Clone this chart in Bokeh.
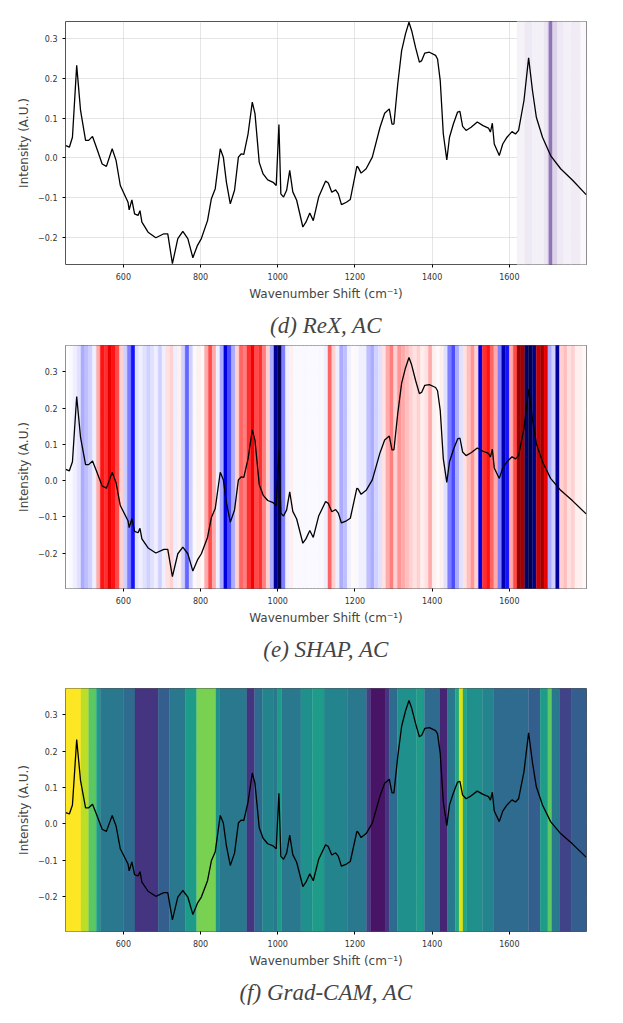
import numpy as np
from bokeh.plotting import figure
from bokeh.layouts import column
from bokeh.models import FixedTicker, Range1d, Title
from bokeh.palettes import Viridis256
from bokeh.embed import file_html
from bokeh.resources import INLINE

wn = [451,460,468,479,489,502,510,520,530,545,556,571,581,592,612,615,622,629,638,643,648,664,684,705,715,727,741,754,767,780,792,802,818,828,838,851,859,867,877,888,898,905,912,923,934,941,952,962,974,988,996,1003,1008,1015,1023,1031,1039,1049,1065,1073,1083,1092,1106,1124,1131,1140,1150,1157,1165,1178,1188,1205,1208,1216,1229,1245,1265,1277,1289,1296,1301,1311,1321,1331,1340,1347,1357,1367,1373,1381,1393,1409,1414,1421,1429,1438,1445,1455,1466,1472,1479,1488,1501,1517,1532,1546,1551,1556,1561,1574,1583,1594,1607,1616,1624,1638,1650,1660,1670,1686,1707,1733,1764,1799]
intensity = [0.031,0.027,0.052,0.232,0.119,0.044,0.044,0.054,0.027,-0.015,-0.021,0.023,-0.006,-0.069,-0.111,-0.130,-0.105,-0.140,-0.144,-0.132,-0.161,-0.186,-0.200,-0.190,-0.190,-0.265,-0.202,-0.184,-0.202,-0.250,-0.219,-0.202,-0.157,-0.102,-0.077,0.023,0.002,-0.061,-0.115,-0.081,0.002,0.010,0.009,0.060,0.140,0.111,-0.011,-0.040,-0.055,-0.061,-0.069,0.084,-0.090,-0.098,-0.081,-0.031,-0.085,-0.106,-0.173,-0.161,-0.138,-0.157,-0.098,-0.058,-0.063,-0.086,-0.080,-0.090,-0.117,-0.111,-0.104,-0.021,-0.023,-0.038,-0.027,0.002,0.077,0.112,0.123,0.085,0.085,0.186,0.269,0.311,0.340,0.319,0.277,0.240,0.244,0.263,0.265,0.257,0.248,0.194,0.060,-0.005,0.052,0.085,0.115,0.117,0.079,0.069,0.077,0.090,0.081,0.075,0.065,0.087,0.035,0.006,0.035,0.052,0.066,0.060,0.069,0.144,0.251,0.169,0.102,0.052,0.006,-0.027,-0.056,-0.092]

# ReX relevance bands (start, end, value 0..1)
rex_start = [1620,1640,1660,1690,1700,1703,1712,1725,1740,1760,1785]
rex_end   = [1640,1660,1690,1700,1703,1712,1725,1740,1760,1785,1800]
rex_val   = [0.06,0.1,0.07,0.12,0.3,0.65,0.2,0.1,0.07,0.09,0.03]

# SHAP values per 10 cm-1 bin from 450
shap_val = [0,-0.05,-0.1,-0.15,-0.3,-0.25,-0.2,-0.1,0.3,0.6,
            0.55,0.7,0.6,0.5,0.2,-0.2,-0.4,-0.6,-0.15,-0.1,
            -0.15,-0.2,-0.15,-0.1,-0.2,-0.1,0.15,0.2,-0.1,0.1,
            -0.2,-0.45,-0.2,-0.05,0.1,0.05,0.3,0.5,0.3,-0.1,
            -0.3,-0.7,-0.5,-0.3,0.2,0.45,0.4,0.55,0.65,0.5,
            0.55,0.4,0.2,-0.3,-0.85,-1.0,-0.4,-0.1,0.1,-0.05,
            -0.05,-0.05,-0.05,-0.05,-0.05,-0.05,-0.05,-0.1,0.45,0.2,
            -0.1,-0.3,-0.25,-0.1,0.05,-0.05,-0.1,-0.1,-0.25,-0.3,
            -0.2,-0.15,0.15,0.3,0.4,0.2,0.35,0.3,0.25,0.2,
            0.15,0.2,0.1,0.15,0.3,0.1,0.05,0.1,-0.15,-0.4,
            -0.5,-0.3,-0.15,0.15,0.25,0.35,0.2,-0.7,0.55,0.6,
            0.45,0.3,-0.4,-0.8,-0.6,0.3,0.5,0.95,0.9,-0.95,
            -1.0,-0.9,0.8,0.9,0.7,-0.3,-0.2,-0.85,0.2,0.25,
            0.15,0.2,0.1,0.1,0.05]

# Grad-CAM bands
gc_start = [450,490,510,530,540,600,630,690,720,760,790,840,850,920,940,960,990,1000,1010,1060,1090,1120,1180,1230,1240,1280,1290,1310,1360,1380,1420,1440,1460,1470,1480,1490,1530,1560,1650,1680,1700,1710,1730,1760]
gc_val   = [1.0,0.9,0.75,0.55,0.4,0.35,0.15,0.3,0.4,0.55,0.8,0.5,0.4,0.15,0.35,0.45,0.4,0.55,0.4,0.5,0.55,0.45,0.4,0.2,0.05,0.15,0.35,0.5,0.55,0.35,0.1,0.4,0.6,0.95,0.6,0.5,0.45,0.35,0.3,0.55,0.75,0.4,0.2,0.3]

xticks = [600,800,1000,1200,1400,1600]
yticks = [-0.2,-0.1,0.0,0.1,0.2,0.3]

def hexc(r,g,b):
    return "#%02x%02x%02x" % (int(round(r*255)),int(round(g*255)),int(round(b*255)))

def purples(v):
    c0 = np.array([1,1,1]); c1 = np.array([0.33,0.15,0.56])
    return hexc(*(c0 + (c1-c0)*v))

def seismic(v):
    v = np.sign(v)*abs(v)**1.5
    t = (v+1)/2
    pts = [(0,(0,0,0.3)),(0.25,(0,0,1)),(0.5,(1,1,1)),(0.75,(1,0,0)),(1,(0.5,0,0))]
    for (t0,c0),(t1,c1) in zip(pts[:-1],pts[1:]):
        if t <= t1:
            f = (t-t0)/(t1-t0)
            return hexc(*[a+(b-a)*f for a,b in zip(c0,c1)])
    return hexc(*pts[-1][1])

def make(ylo, yhi, caption, top_border, bands):
    p = figure(frame_width=521, frame_height=243, output_backend="svg", toolbar_location=None,
               x_range=Range1d(450,1800), y_range=Range1d(ylo,yhi),
               min_border_left=65, min_border_right=30, min_border_top=top_border,
               min_border_bottom=10)
    s, e, cols = bands
    p.quad(left=s, right=e, bottom=-1, top=1, fill_color=cols, line_color=cols, line_width=0.3)
    p.line(wn, intensity, line_color="black", line_width=1.3)
    p.xaxis.ticker = FixedTicker(ticks=xticks)
    p.yaxis.ticker = FixedTicker(ticks=yticks)
    p.yaxis.major_label_overrides = {t: ("%.1f" % t).replace("-", "\u2212") for t in yticks}
    p.xaxis.axis_label = "Wavenumber Shift (cm\u207b\u00b9)"
    p.yaxis.axis_label = "Intensity (A.U.)"
    for ax in (p.xaxis[0], p.yaxis[0]):
        ax.axis_label_text_font = "DejaVu Sans"
        ax.axis_label_text_font_style = "normal"
        ax.axis_label_text_font_size = "12px"
        ax.major_label_text_font = "DejaVu Sans"
        ax.major_label_text_font_size = "8px"
        ax.major_label_text_color = "#333333"
        ax.minor_tick_line_color = None
        ax.axis_line_color = None
        ax.major_tick_out = 3
        ax.major_tick_in = 0
        ax.axis_label_standoff = 4
    p.grid.grid_line_color = "#cccccc"
    p.grid.grid_line_alpha = 0.5
    p.outline_line_color = "#555555"
    p.outline_line_width = 1
    p.add_layout(Title(text=caption, align="center", text_font="Liberation Serif",
                       text_font_style="italic", text_font_size="23px", standoff=14), "below")
    return p

rex_bands = (rex_start, rex_end, [purples(v) for v in rex_val])
shap_s = [450+10*i for i in range(len(shap_val))]
shap_bands = (shap_s, [s+10 for s in shap_s], [seismic(v) for v in shap_val])
gc_end = gc_start[1:] + [1800]
gc_bands = (gc_start, gc_end, [Viridis256[int(round(v*255))] for v in gc_val])

p1 = make(-0.267, 0.342, "(d) ReX, AC", 21, rex_bands)
p2 = make(-0.298, 0.373, "(e) SHAP, AC", 1, shap_bands)
p3 = make(-0.297, 0.373, "(f) Grad-CAM, AC", 20, gc_bands)

lay = column(p1, p2, p3, spacing=0)
open("out.html", "w").write(file_html(lay, INLINE))
